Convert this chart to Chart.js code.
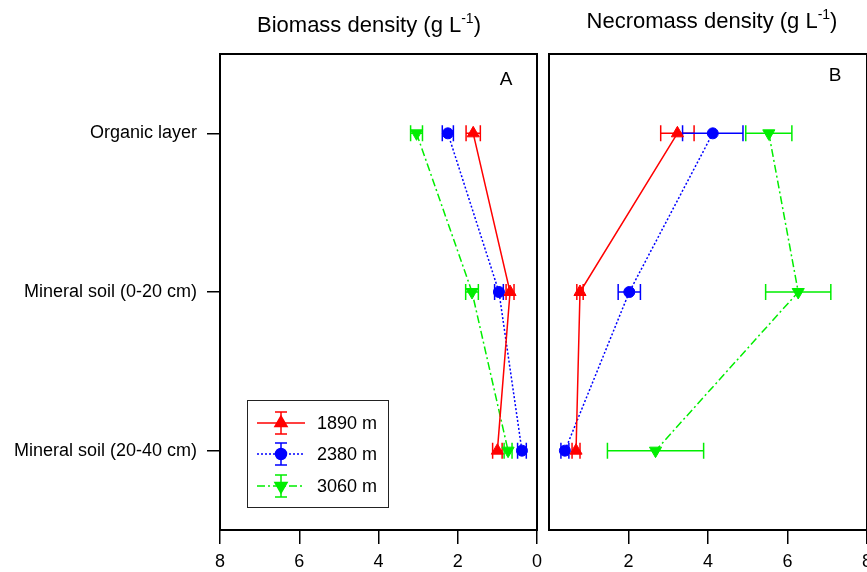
<!DOCTYPE html>
<html>
<head>
<meta charset="utf-8">
<script src="https://cdn.jsdelivr.net/npm/chart.js@4.4.1/dist/chart.umd.min.js"></script>
<style>
  html, body { margin:0; padding:0; background:#fff; width:867px; height:572px; overflow:hidden; }
  canvas { position:absolute; top:0; }
  #cA { left:0; }
  #cB { left:541px; }
</style>
</head>
<body>
<canvas id="cA" width="545" height="572"></canvas>
<canvas id="cB" width="340" height="572"></canvas>
<script>
// ---- data ----
const categories = ['Organic layer', 'Mineral soil (0-20 cm)', 'Mineral soil (20-40 cm)'];
const seriesNames = ['1890 m', '2380 m', '3060 m'];
const xTicks = [0, 2, 4, 6, 8];

// Biomass density (g L-1)
const bio1890 = [1.61, 0.68, 1.00];
const bio1890Err = [0.18, 0.10, 0.12];
const bio2380 = [2.25, 0.96, 0.38];
const bio2380Err = [0.14, 0.11, 0.11];
const bio3060 = [3.04, 1.64, 0.73];
const bio3060Err = [0.15, 0.16, 0.10];

// Necromass density (g L-1)
const nec1890 = [3.23, 0.78, 0.68];
const nec1890Err = [0.42, 0.08, 0.10];
const nec2380 = [4.12, 2.02, 0.40];
const nec2380Err = [0.76, 0.28, 0.10];
const nec3060 = [5.53, 6.27, 2.68];
const nec3060Err = [0.58, 0.82, 1.21];

const FONT = "'Liberation Sans', Arial, sans-serif";
const styles = [
  { color: '#ff0000', dash: [], pointStyle: 'triangle', rotation: 0, radius: 7 },
  { color: '#0000ff', dash: [2, 2], pointStyle: 'circle', rotation: 0, radius: 5.5 },
  { color: '#00ee00', dash: [8, 3, 2, 3], pointStyle: 'triangle', rotation: 180, radius: 7 }
];

function mkDataset(i, vals, errs) {
  const s = styles[i];
  return {
    label: seriesNames[i],
    data: vals.map((v, k) => ({ x: v, y: categories[k] })),
    errors: errs,
    borderColor: s.color,
    backgroundColor: s.color,
    borderWidth: 1.5,
    borderDash: s.dash,
    pointStyle: s.pointStyle,
    rotation: s.rotation,
    pointRadius: s.radius,
    pointBorderWidth: 1,
    pointBackgroundColor: s.color,
    pointBorderColor: s.color,
    tension: 0,
    fill: false
  };
}

const framePlugin = {
  id: 'frame',
  afterDraw(chart) {
    const { ctx, chartArea: a } = chart;
    ctx.save();
    ctx.strokeStyle = '#000';
    ctx.lineWidth = 2;
    ctx.strokeRect(a.left, a.top, a.right - a.left, a.bottom - a.top);
    ctx.restore();
  }
};

const errorBarPlugin = {
  id: 'errbars',
  beforeDatasetsDraw(chart) {
    const ctx = chart.ctx;
    const xs = chart.scales.x;
    ctx.save();
    chart.data.datasets.forEach((ds, di) => {
      const meta = chart.getDatasetMeta(di);
      ctx.strokeStyle = ds.borderColor;
      ctx.lineWidth = 1.5;
      ctx.setLineDash([]);
      meta.data.forEach((pt, k) => {
        const v = ds.data[k].x, e = ds.errors[k];
        const x1 = xs.getPixelForValue(v - e), x2 = xs.getPixelForValue(v + e);
        const y = pt.y;
        ctx.beginPath();
        ctx.moveTo(x1, y); ctx.lineTo(x2, y);
        ctx.moveTo(x1, y - 8); ctx.lineTo(x1, y + 8);
        ctx.moveTo(x2, y - 8); ctx.lineTo(x2, y + 8);
        ctx.stroke();
      });
    });
    ctx.restore();
  }
};

function drawTitle(ctx, cx, cy, main) {
  ctx.save();
  ctx.fillStyle = '#000';
  ctx.textBaseline = 'alphabetic';
  const big = '22px ' + FONT, small = '14px ' + FONT;
  ctx.font = big; const w1 = ctx.measureText(main).width; const w3 = ctx.measureText(')').width;
  ctx.font = small; const w2 = ctx.measureText('-1').width;
  let x = cx - (w1 + w2 + w3) / 2;
  const base = cy + 8;
  ctx.font = big; ctx.textAlign = 'left'; ctx.fillText(main, x, base); x += w1;
  ctx.font = small; ctx.fillText('-1', x, base - 9); x += w2;
  ctx.font = big; ctx.fillText(')', x, base);
  ctx.restore();
}

function annotPlugin(title, tcx, tcy, letter, lx, ly, withLegend) {
  return {
    id: 'annot',
    afterDraw(chart) {
      const ctx = chart.ctx;
      drawTitle(ctx, tcx, tcy, title);
      ctx.save();
      ctx.fillStyle = '#000';
      ctx.font = '19px ' + FONT;
      ctx.textAlign = 'center';
      ctx.textBaseline = 'middle';
      ctx.fillText(letter, lx, ly);
      if (withLegend) {
        ctx.strokeStyle = '#222';
        ctx.lineWidth = 1;
        ctx.strokeRect(247.5, 400.5, 141, 107);
        const ys = [423, 454, 486];
        chart.data.datasets.forEach((ds, i) => {
          const s = styles[i];
          const y = ys[i];
          ctx.strokeStyle = s.color;
          ctx.lineWidth = 1.5;
          ctx.setLineDash(s.dash);
          ctx.beginPath(); ctx.moveTo(257, y); ctx.lineTo(305, y); ctx.stroke();
          ctx.setLineDash([]);
          ctx.beginPath();
          ctx.moveTo(281, y - 11); ctx.lineTo(281, y + 11);
          ctx.moveTo(275, y - 11); ctx.lineTo(287, y - 11);
          ctx.moveTo(275, y + 11); ctx.lineTo(287, y + 11);
          ctx.stroke();
          ctx.fillStyle = s.color;
          Chart.helpers.drawPoint(ctx, { pointStyle: s.pointStyle, radius: s.radius, rotation: s.rotation, borderWidth: 1 }, 281, y);
          ctx.fillStyle = '#000';
          ctx.font = '18px ' + FONT;
          ctx.textAlign = 'left';
          ctx.fillText(ds.label, 317, y + 1);
        });
      }
      ctx.restore();
    }
  };
}

function baseOptions(isA) {
  return {
    responsive: false,
    animation: false,
    layout: { padding: isA ? { top: 54, right: 8, left: 0, bottom: 0 } : { top: 54, right: 14, left: 8, bottom: 0 } },
    plugins: { legend: { display: false }, tooltip: { enabled: false } },
    scales: {
      x: {
        type: 'linear', min: 0, max: 8, reverse: isA,
        afterBuildTicks(s) { s.ticks = xTicks.map(v => ({ value: v })); },
        ticks: {
          color: '#000', font: { size: 18, family: FONT }, padding: 7, maxRotation: 0,
          callback: v => (!isA && v === 0) ? '' : String(v)
        },
        grid: {
          drawOnChartArea: false, drawTicks: true, tickLength: 14, lineWidth: 1.5,
          color: '#000',
          tickColor: c => (!isA && c.tick && c.tick.value === 0) ? 'rgba(0,0,0,0)' : '#000'
        },
        border: { display: false },
        afterFit(s) { s.height = 42; }
      },
      y: {
        type: 'category', labels: categories, offset: true, display: isA,
        ticks: { color: '#000', font: { size: 18, family: FONT }, padding: 10 },
        grid: { drawOnChartArea: false, drawTicks: true, tickLength: 13, lineWidth: 1.5, color: '#000', offset: false },
        border: { display: false },
        afterFit(s) { if (isA) s.width = 220; }
      }
    }
  };
}

new Chart(document.getElementById('cA'), {
  type: 'line',
  data: { datasets: [mkDataset(0, bio1890, bio1890Err), mkDataset(1, bio2380, bio2380Err), mkDataset(2, bio3060, bio3060Err)] },
  options: baseOptions(true),
  plugins: [errorBarPlugin, framePlugin, annotPlugin('Biomass density (g L', 369, 24, 'A', 506, 80, true)]
});

new Chart(document.getElementById('cB'), {
  type: 'line',
  data: { datasets: [mkDataset(0, nec1890, nec1890Err), mkDataset(1, nec2380, nec2380Err), mkDataset(2, nec3060, nec3060Err)] },
  options: baseOptions(false),
  plugins: [errorBarPlugin, framePlugin, annotPlugin('Necromass density (g L', 171, 20, 'B', 294, 76, false)]
});
</script>
</body>
</html>
